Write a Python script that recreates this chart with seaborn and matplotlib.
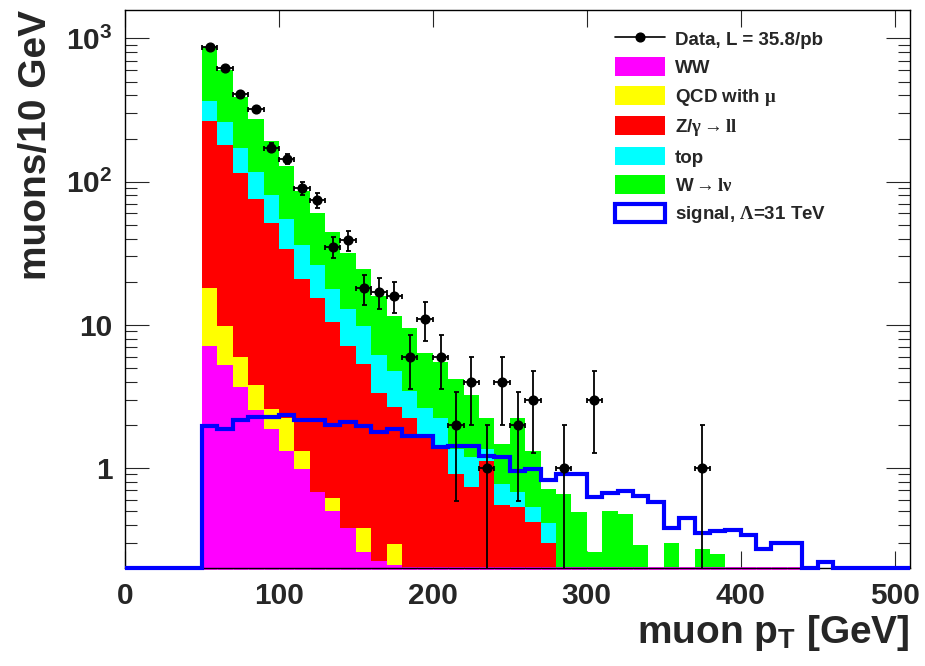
import numpy as np
import pandas as pd
import matplotlib
matplotlib.use("Agg")
import matplotlib.pyplot as plt
from matplotlib.lines import Line2D
from matplotlib.patches import Patch
from matplotlib.ticker import FixedLocator, FuncFormatter, LogLocator, NullFormatter, MultipleLocator, NullLocator
import seaborn as sns

# 10 GeV bins, low edges from 50 to 500 GeV
bin_low = list(range(50, 510, 10))

# background components (events per bin)
ww = [7.1, 5.2, 3.7, 2.55, 1.87, 1.32, 0.98, 0.68, 0.50, 0.38, 0.26, 0.225, 0.21] + [0.05] * 27 + [0] * 6
qcd = [10.9, 4.6, 2.3, 1.22, 0.71, 0.9, 0.34, 0, 0.12, 0, 0.12, 0, 0.085] + [0] * 33
zll = [248, 171, 109, 72, 48.4, 31.8, 19.7, 14.6, 9.8, 6.7, 4.9, 3.1, 2.35, 2.2, 1.6, 1.3,
       0.86, 0.68, 1.07, 0.5, 0.48, 0.37, 0.25] + [0] * 23
top = [101, 78, 58, 41, 29.3, 21.2, 14.8, 10.7, 7.3, 5.75, 4.5, 2.87, 2.11, 1.21, 0.98, 0.9,
       0.45, 0.46, 0.24, 0.22, 0.15, 0.11, 0.11] + [0] * 23
wlnu = [510, 344, 220, 158, 111, 73, 49.8, 34.5, 26.9, 18.7, 14.6, 9.7, 6.7, 6.05, 3.74, 3.24,
        2.81, 2.05, 0.87, 0.70, 1.55, 0.79, 0.30, 0.61, 0.44, 0.21, 0.45, 0.43, 0.24, 0, 0.25, 0,
        0.22, 0.20] + [0] * 12

# signal, Lambda = 31 TeV
signal = [1.97, 1.87, 2.17, 2.26, 2.26, 2.34, 2.17, 2.17, 2.0, 2.1, 1.95, 1.79, 1.87, 1.66, 1.66,
          1.39, 1.43, 1.43, 1.22, 1.19, 0.95, 0.98, 0.82, 0.91, 0.91, 0.63, 0.67, 0.69, 0.64, 0.58,
          0.38, 0.45, 0.35, 0.36, 0.37, 0.34, 0.27, 0.30, 0.30, 0, 0.22] + [0] * 5

# observed muons
data = [876, 622, 410, 321, 173, 144, 90, 74, 35, 39, 18, 17, 16, 6, 11, 6, 2, 4, 1, 4, 2, 3,
        0, 1, 0, 3, 0, 0, 0, 0, 0, 0, 1] + [0] * 13

labels = ["Data, L = 35.8/pb", "WW", r"QCD with $\mathrm{\mu}$", r"Z/$\mathrm{\gamma\rightarrow ll}$",
          "top", r"W$\rightarrow$$\mathrm{l\nu}$", r"signal, $\mathrm{\Lambda}$=31 TeV"]

Y_MIN, Y_MAX = 0.2, 1580


def main():
    sns.set_style("ticks")
    plt.rcParams["font.family"] = ["Liberation Sans", "DejaVu Sans"]
    plt.rcParams["font.weight"] = "bold"
    plt.rcParams["axes.labelweight"] = "bold"
    plt.rcParams["mathtext.fontset"] = "custom"
    plt.rcParams["mathtext.rm"] = "Liberation Serif"
    plt.rcParams["mathtext.it"] = "Liberation Serif:italic"
    plt.rcParams["mathtext.bf"] = "Liberation Sans:bold"

    width = 10
    centers = np.array(bin_low) + width / 2
    edges = np.append(bin_low, bin_low[-1] + width)

    # stack order: first hue level ends on top in seaborn
    order = ["wlnu", "top", "zll", "qcd", "ww"]
    colors = {"wlnu": "#00ff00", "top": "#00ffff", "zll": "#ff0000", "qcd": "#ffff00", "ww": "#ff00ff"}
    series = {"ww": ww, "qcd": qcd, "zll": zll, "top": top, "wlnu": wlnu}
    bkg = pd.concat([pd.DataFrame({"pt": centers, "w": vals, "proc": name}) for name, vals in series.items()],
                    ignore_index=True)

    fig = plt.figure(figsize=(9.25, 6.66), dpi=100)
    ax = fig.add_axes([125 / 925, 1 - 568 / 666, 785 / 925, 558 / 666])

    sns.histplot(data=bkg, x="pt", weights="w", hue="proc", hue_order=order, palette=colors,
                 binwidth=width, binrange=(edges[0], edges[-1]), multiple="stack", element="step",
                 alpha=1, linewidth=0, legend=False, ax=ax)

    ax.set_yscale("log")
    ax.set_xlim(0, 510)
    ax.set_ylim(Y_MIN, Y_MAX)

    # WW outline along the frame bottom where it is below the axis minimum
    ww_arr = np.array(ww)
    nz = ww_arr > 0
    ax.hlines(np.full(nz.sum(), Y_MIN), edges[:-1][nz], edges[1:][nz], color="#ff00ff", lw=2,
              clip_on=False, zorder=2)

    # signal histogram over the full 0-510 range
    sig_edges = np.append(np.arange(0, bin_low[0], width), edges)
    sig_vals = np.concatenate([np.zeros(len(sig_edges) - len(edges)), signal])
    ax.stairs(np.maximum(sig_vals, Y_MIN), sig_edges, baseline=None, color="#0000ff", lw=3,
              clip_on=False, zorder=3)

    d = np.array(data, dtype=float)
    m = d > 0
    ax.errorbar(centers[m], d[m], yerr=np.sqrt(d[m]), xerr=np.full(m.sum(), width / 2), fmt="o",
                color="black", ms=6.3, elinewidth=1.3, capsize=1.8, capthick=1.3, zorder=5)

    ax.yaxis.set_major_locator(FixedLocator([1, 10, 100, 1000]))
    ax.yaxis.set_major_formatter(FuncFormatter(
        lambda v, p: {1: "1", 10: "10", 100: r"$\mathbf{10^{2}}$", 1000: r"$\mathbf{10^{3}}$"}.get(int(round(v)), "")))
    ax.yaxis.set_minor_locator(LogLocator(base=10, subs=np.arange(2, 10)))
    ax.yaxis.set_minor_formatter(NullFormatter())
    ax.xaxis.set_major_locator(MultipleLocator(100))
    ax.xaxis.set_minor_locator(NullLocator())

    ax.tick_params(axis="both", which="both", direction="in", top=True, right=True, width=0.8,
                   labelsize=21.5)
    ax.tick_params(axis="x", which="major", length=12, pad=10)
    ax.tick_params(axis="y", which="major", length=17, pad=9)
    ax.tick_params(axis="y", which="minor", length=8.5)
    for s in ax.spines.values():
        s.set_linewidth(1)
        s.set_color("black")

    ax.set_xlabel(r"muon p$_{\mathbf{T}}$ [GeV]", fontsize=28, loc="right")
    ax.xaxis.set_label_coords(1.0, -0.08)
    ax.set_ylabel("muons/10 GeV", fontsize=28, loc="top")
    ax.yaxis.set_label_coords(-0.09, 1.0)

    handles = [Line2D([], [], color="black", lw=1.2, marker="o", ms=6.3)]
    handles += [Patch(facecolor=colors[k], edgecolor="none") for k in ["ww", "qcd", "zll", "top", "wlnu"]]
    handles += [Patch(facecolor="white", edgecolor="#0000ff", linewidth=3)]
    fig.legend(handles, labels, loc="upper left", bbox_to_anchor=(615 / 925, 1 - 29 / 666),
               frameon=False, borderpad=0, borderaxespad=0, fontsize=13.5, handlelength=2.67,
               handleheight=1.15, labelspacing=0.47, handletextpad=0.53)

    fig.savefig("out.png", dpi=100)
    plt.close(fig)


if __name__ == "__main__":
    main()
